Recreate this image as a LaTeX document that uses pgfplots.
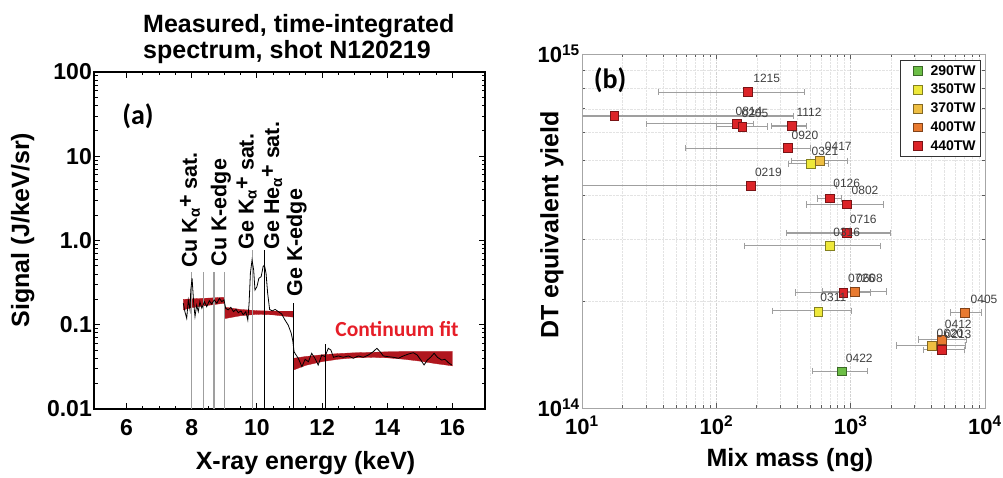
\documentclass[border=0pt]{standalone}
\usepackage{fontspec}
\setmainfont{Liberation Sans}
\newfontfamily\carlito{Carlito}
\usepackage{pgfplots}
\pgfplotsset{compat=1.18}
\definecolor{fitred}{RGB}{176,22,30}
\definecolor{ctext}{RGB}{230,30,40}
\definecolor{c290}{RGB}{108,190,70}
\definecolor{c350}{RGB}{238,232,58}
\definecolor{c370}{RGB}{238,190,66}
\definecolor{c400}{RGB}{232,122,48}
\definecolor{c440}{RGB}{220,36,40}
\newcommand{\lab}{\fontsize{21.5}{22}\selectfont\bfseries}
\newcommand{\dl}{\fontsize{12}{12}\selectfont}
\newcommand{\axlab}{\fontsize{25}{25}\selectfont\bfseries}
\begin{document}
\begin{tikzpicture}
\path[use as bounding box] (0pt,0pt) rectangle (1003pt,478pt);
\node[anchor=north west, align=left, inner sep=0pt, font=\fontsize{25}{26}\selectfont\bfseries] at (143pt,463.5pt) {Measured, time-integrated\\spectrum, shot N120219};
% ---------------- panel (a)
\begin{axis}[name=a, at={(94pt,69pt)}, anchor=south west, scale only axis,
  width=391pt, height=337pt,
  xmin=5, xmax=17, ymode=log, ymin=0.01, ymax=100,
  xtick={6,8,10,12,14,16}, xticklabels={6,8,10,12,14,16}, minor x tick num=3,
  ytick={0.01,0.1,1,10,100}, yticklabels={0.01,0.1,1.0,10,100},
  minor ytick={0.02,0.03,0.04,0.05,0.06,0.07,0.08,0.09,0.2,0.3,0.4,0.5,0.6,0.7,0.8,0.9,2,3,4,5,6,7,8,9,20,30,40,50,60,70,80,90},
  tick align=inside, tick pos=both,
  major tick length=6pt, minor tick length=3.5pt,
  axis line style={line width=1.6pt},
  tick style={black, line width=1pt},
  ticklabel style={font=\fontsize{23}{23}\selectfont\bfseries, inner sep=2pt},
  xticklabel style={yshift=-8pt},
  xlabel={X-ray energy (keV)}, ylabel={Signal (J/keV/sr)},
  every axis x label/.style={at={(axis description cs:0.541,-0.16)}, anchor=center, font=\axlab},
  every axis y label/.style={at={(axis description cs:-0.182,0.531)}, anchor=center, rotate=90, font=\axlab},
  clip mode=individual,
]
% continuum fit bands
\addplot[fill=fitred, draw=fitred, line width=0.3pt] coordinates {
 (7.74,0.200) (8.0,0.203) (8.5,0.207) (9.0,0.212) (9.0,0.180) (8.5,0.170) (8.0,0.160) (7.74,0.150)} -- cycle;
\addplot[fill=fitred, draw=fitred, line width=0.3pt] coordinates {
 (9.0,0.162) (9.5,0.152) (10.0,0.147) (10.5,0.145) (11.12,0.145)
 (11.12,0.123) (10.5,0.131) (10.0,0.133) (9.5,0.128) (9.0,0.118)} -- cycle;
\addplot[fill=fitred, draw=fitred, line width=0.3pt] coordinates {
 (11.12,0.040) (11.5,0.042) (12,0.0440) (12.5,0.0455) (13,0.0465) (13.5,0.047) (14,0.0478) (14.5,0.048) (15,0.048) (15.5,0.048) (16,0.048)
 (16,0.0325) (15.5,0.0345) (15,0.037) (14.5,0.039) (14,0.0405) (13.5,0.041) (13,0.0405) (12.5,0.039) (12,0.0365) (11.5,0.033) (11.12,0.029)} -- cycle;
% line markers
\addplot[gray!75, line width=1.1pt] coordinates {(8.0,0.01) (8.0,0.42)};
\addplot[gray!75, line width=1.1pt] coordinates {(8.355,0.01) (8.355,0.42)};
\addplot[gray!75, line width=1.1pt] coordinates {(8.683,0.01) (8.683,0.42)};
\addplot[gray!75, line width=1.1pt] coordinates {(9.0,0.01) (9.0,0.42)};
\addplot[gray!75, line width=1.1pt] coordinates {(9.87,0.01) (9.87,0.77)};
\addplot[black, line width=0.9pt] coordinates {(10.22,0.01) (10.22,0.77)};
\addplot[black, line width=0.9pt] coordinates {(11.12,0.01) (11.12,0.183)};
\addplot[black, line width=0.8pt] coordinates {(12.10,0.01) (12.10,0.0586)};
% measured spectrum
\addplot[black, line width=0.8pt] coordinates {
(7.74,0.18) (7.79,0.143) (7.845,0.119) (7.894,0.197) (7.947,0.150) (7.97,0.258) (8.01,0.356) (8.06,0.18) (8.10,0.125) (8.15,0.171) (8.20,0.143) (8.25,0.188) (8.31,0.157) (8.39,0.188) (8.46,0.164) (8.54,0.193) (8.61,0.176) (8.69,0.197) (8.77,0.18) (8.85,0.206) (8.92,0.188) (8.99,0.197) (9.04,0.157) (9.12,0.150) (9.20,0.161) (9.28,0.143) (9.36,0.152) (9.43,0.139) (9.51,0.146) (9.58,0.131) (9.66,0.143) (9.72,0.114) (9.76,0.18) (9.80,0.408) (9.85,0.587) (9.90,0.447) (9.94,0.258) (10.00,0.283) (10.06,0.356) (10.13,0.372) (10.19,0.489) (10.23,0.512) (10.28,0.408) (10.33,0.236) (10.39,0.152) (10.47,0.146) (10.56,0.152) (10.66,0.143) (10.76,0.134) (10.86,0.114) (10.96,0.099) (11.05,0.08) (11.10,0.065) (11.14,0.048) (11.18,0.045) (11.27,0.040) (11.38,0.0318) (11.48,0.0389) (11.58,0.0364) (11.68,0.0458) (11.78,0.040) (11.88,0.0333) (11.99,0.0437) (12.09,0.0418) (12.19,0.0525) (12.27,0.0502) (12.35,0.0411) (12.50,0.0426) (12.65,0.0411) (12.81,0.0426) (12.96,0.040) (13.11,0.0426) (13.27,0.0411) (13.42,0.0437) (13.57,0.0479) (13.68,0.0525) (13.78,0.0479) (13.88,0.0426) (14.03,0.0418) (14.19,0.0411) (14.34,0.040) (14.49,0.0426) (14.65,0.0449) (14.80,0.0466) (14.92,0.0437) (15.03,0.0381) (15.13,0.0333) (15.23,0.0381) (15.33,0.0411) (15.44,0.0458) (15.54,0.0411) (15.67,0.0381) (15.77,0.0389) (15.88,0.0354) (15.98,0.0333)};
% annotations
\node[rotate=90, anchor=west, inner sep=0pt, font=\lab] at (axis cs:7.947,0.472) {Cu K\textsubscript{α}\raisebox{0.2em}{+} sat.};
\node[rotate=90, anchor=west, inner sep=0pt, font=\lab] at (axis cs:8.892,0.489) {Cu K-edge};
\node[rotate=90, anchor=west, inner sep=0pt, font=\lab] at (axis cs:9.687,0.78) {Ge K\textsubscript{α}\raisebox{0.2em}{+} sat.};
\node[rotate=90, anchor=west, inner sep=0pt, font=\lab] at (axis cs:10.469,0.78) {Ge He\textsubscript{α}\raisebox{0.2em}{+} sat.};
\node[rotate=90, anchor=west, inner sep=0pt, font=\lab] at (axis cs:11.222,0.215) {Ge K-edge};
\node[font=\carlito\fontsize{28}{28}\selectfont\bfseries] at (axis description cs:0.1125,0.869) {(a)};
\node[font=\carlito\fontsize{21.5}{22}\selectfont\bfseries, text=ctext] at (axis description cs:0.775,0.237) {Continuum fit};
\end{axis}
% ---------------- panel (b)
\begin{axis}[name=b, at={(582pt,70pt)}, anchor=south west, scale only axis,
  width=403pt, height=354pt,
  xmode=log, ymode=log, xmin=10, xmax=10000, ymin=1e14, ymax=1e15,
  xtick={10,100,1000,10000},
  xticklabels={10\textsuperscript{1},10\textsuperscript{2},10\textsuperscript{3},10\textsuperscript{4}},
  ytick={1e14,1e15}, yticklabels={10\textsuperscript{14},10\textsuperscript{15}},
  minor xtick={20,30,40,50,60,70,80,90,200,300,400,500,600,700,800,900,2000,3000,4000,5000,6000,7000,8000,9000},
  minor ytick={2e14,3e14,4e14,5e14,6e14,7e14,8e14,9e14},
  tick align=inside, tick pos=both,
  major tick length=5pt, minor tick length=3pt,
  axis line style={gray!70, line width=0.8pt},
  tick style={gray!70!black, line width=0.6pt},
  grid=both,
  major grid style={densely dotted, gray!35},
  minor grid style={densely dotted, gray!22},
  ticklabel style={font=\fontsize{22}{22}\selectfont\bfseries, inner sep=2pt},
  xticklabel style={yshift=-6pt},
  xlabel={Mix mass (ng)}, ylabel={DT equivalent yield},
  every axis x label/.style={at={(axis description cs:0.516,-0.147)}, anchor=center, font=\axlab},
  every axis y label/.style={at={(axis description cs:-0.0744,0.517)}, anchor=center, rotate=90, font=\axlab},
  clip mode=individual,
  unbounded coords=jump,
  legend style={at={(axis description cs:0.99,0.983)}, anchor=north east,
    draw=gray!40!black, line width=0.6pt, fill=white,
    font=\fontsize{14}{14}\selectfont\bfseries, row sep=3.5pt, inner sep=3pt,
    nodes={inner sep=2pt}},
  legend image code/.code={\path[draw=none,fill=none] (0pt,0pt) (25pt,0pt); \draw[#1] plot coordinates {(14pt,0pt)};},
  legend cell align=left,
]
% error bars
\addplot[forget plot, gray!75, line width=1.1pt, mark=|, mark size=3.2pt, mark options={line width=1pt}] coordinates {
(37,7.8e14) (450,7.8e14) (17,nan)
(5,6.68e14) (374,6.68e14) (17,nan)
(30,6.35e14) (189,6.35e14) (17,nan)
(101,6.23e14) (240,6.23e14) (17,nan)
(258,6.26e14) (471,6.26e14) (17,nan)
(59,5.42e14) (499,5.42e14) (17,nan)
(5,4.25e14) (787,4.25e14) (17,nan)
(569,3.91e14) (859,3.91e14) (17,nan)
(466,3.76e14) (1755,3.76e14) (17,nan)
(334,3.12e14) (1963,3.12e14) (17,nan)
(390,2.12e14) (1400,2.12e14) (17,nan)
(3475,1.46e14) (7000,1.46e14) (17,nan)
(344,4.89e14) (683,4.89e14) (17,nan)
(161,2.87e14) (1675,2.87e14) (17,nan)
(263,1.88e14) (1006,1.88e14) (17,nan)
(364,4.99e14) (946,4.99e14) (17,nan)
(2178,1.5e14) (7110,1.5e14) (17,nan)
(619,2.13e14) (1858,2.13e14) (17,nan)
(5495,1.86e14) (9460,1.86e14) (17,nan)
(3192,1.56e14) (7310,1.56e14) (17,nan)
(519,1.27e14) (1340,1.27e14)};
% points
\addplot[only marks, mark=square*, mark size=4.4pt, mark options={fill=c290, draw=c290!55!black, line width=0.5pt}] coordinates {(859,1.27e14)};
\addplot[only marks, mark=square*, mark size=4.4pt, mark options={fill=c350, draw=c350!55!black, line width=0.5pt}] coordinates {(507,4.89e14) (695,2.87e14) (574,1.87e14)};
\addplot[only marks, mark=square*, mark size=4.4pt, mark options={fill=c370, draw=c370!55!black, line width=0.5pt}] coordinates {(591,4.99e14) (4018,1.5e14)};
\addplot[only marks, mark=square*, mark size=4.4pt, mark options={fill=c400, draw=c400!55!black, line width=0.5pt}] coordinates {(1077,2.13e14) (7110,1.86e14) (4767,1.56e14)};
\addplot[only marks, mark=square*, mark size=4.4pt, mark options={fill=c440, draw=c440!55!black, line width=0.5pt}] coordinates {
(171,7.8e14) (17.4,6.68e14) (142,6.35e14) (156,6.23e14) (364,6.26e14) (340,5.42e14) (181,4.25e14) (703,3.91e14) (935,3.76e14) (935,3.12e14) (881,2.12e14) (4767,1.46e14)};
\legend{290TW,350TW,370TW,400TW,440TW}
% shot labels
\node[font=\dl, text=black!75] at (axis cs:237,8.52e14) {1215};
\node[font=\dl, text=black!75] at (axis cs:175,6.9e14) {0814};
\node[font=\dl, text=black!75] at (axis cs:194,6.81e14) {0205};
\node[font=\dl, text=black!75] at (axis cs:490,6.83e14) {1112};
\node[font=\dl, text=black!75] at (axis cs:457,5.9e14) {0920};
\node[font=\dl, text=black!75] at (axis cs:644,5.32e14) {0321};
\node[font=\dl, text=black!75] at (axis cs:809,5.47e14) {0417};
\node[font=\dl, text=black!75] at (axis cs:244,4.63e14) {0219};
\node[font=\dl, text=black!75] at (axis cs:934,4.31e14) {0126};
\node[font=\dl, text=black!75] at (axis cs:1279,4.11e14) {0802};
\node[font=\dl, text=black!75] at (axis cs:1242,3.4e14) {0716};
\node[font=\dl, text=black!75] at (axis cs:934,3.14e14) {0316};
\node[font=\dl, text=black!75] at (axis cs:1205,2.32e14) {0726};
\node[font=\dl, text=black!75] at (axis cs:1380,2.32e14) {0608};
\node[font=\dl, text=black!75] at (axis cs:743,2.05e14) {0311};
\node[font=\dl, text=black!75] at (axis cs:9840,2.03e14) {0405};
\node[font=\dl, text=black!75] at (axis cs:6330,1.72e14) {0412};
\node[font=\dl, text=black!75] at (axis cs:5495,1.62e14) {0620};
\node[font=\dl, text=black!75] at (axis cs:6295,1.61e14) {0213};
\node[font=\dl, text=black!75] at (axis cs:1159,1.38e14) {0422};
\node[font=\carlito\fontsize{28}{28}\selectfont\bfseries] at (axis description cs:0.0695,0.9266) {(b)};
\end{axis}
\end{tikzpicture}
\end{document}
